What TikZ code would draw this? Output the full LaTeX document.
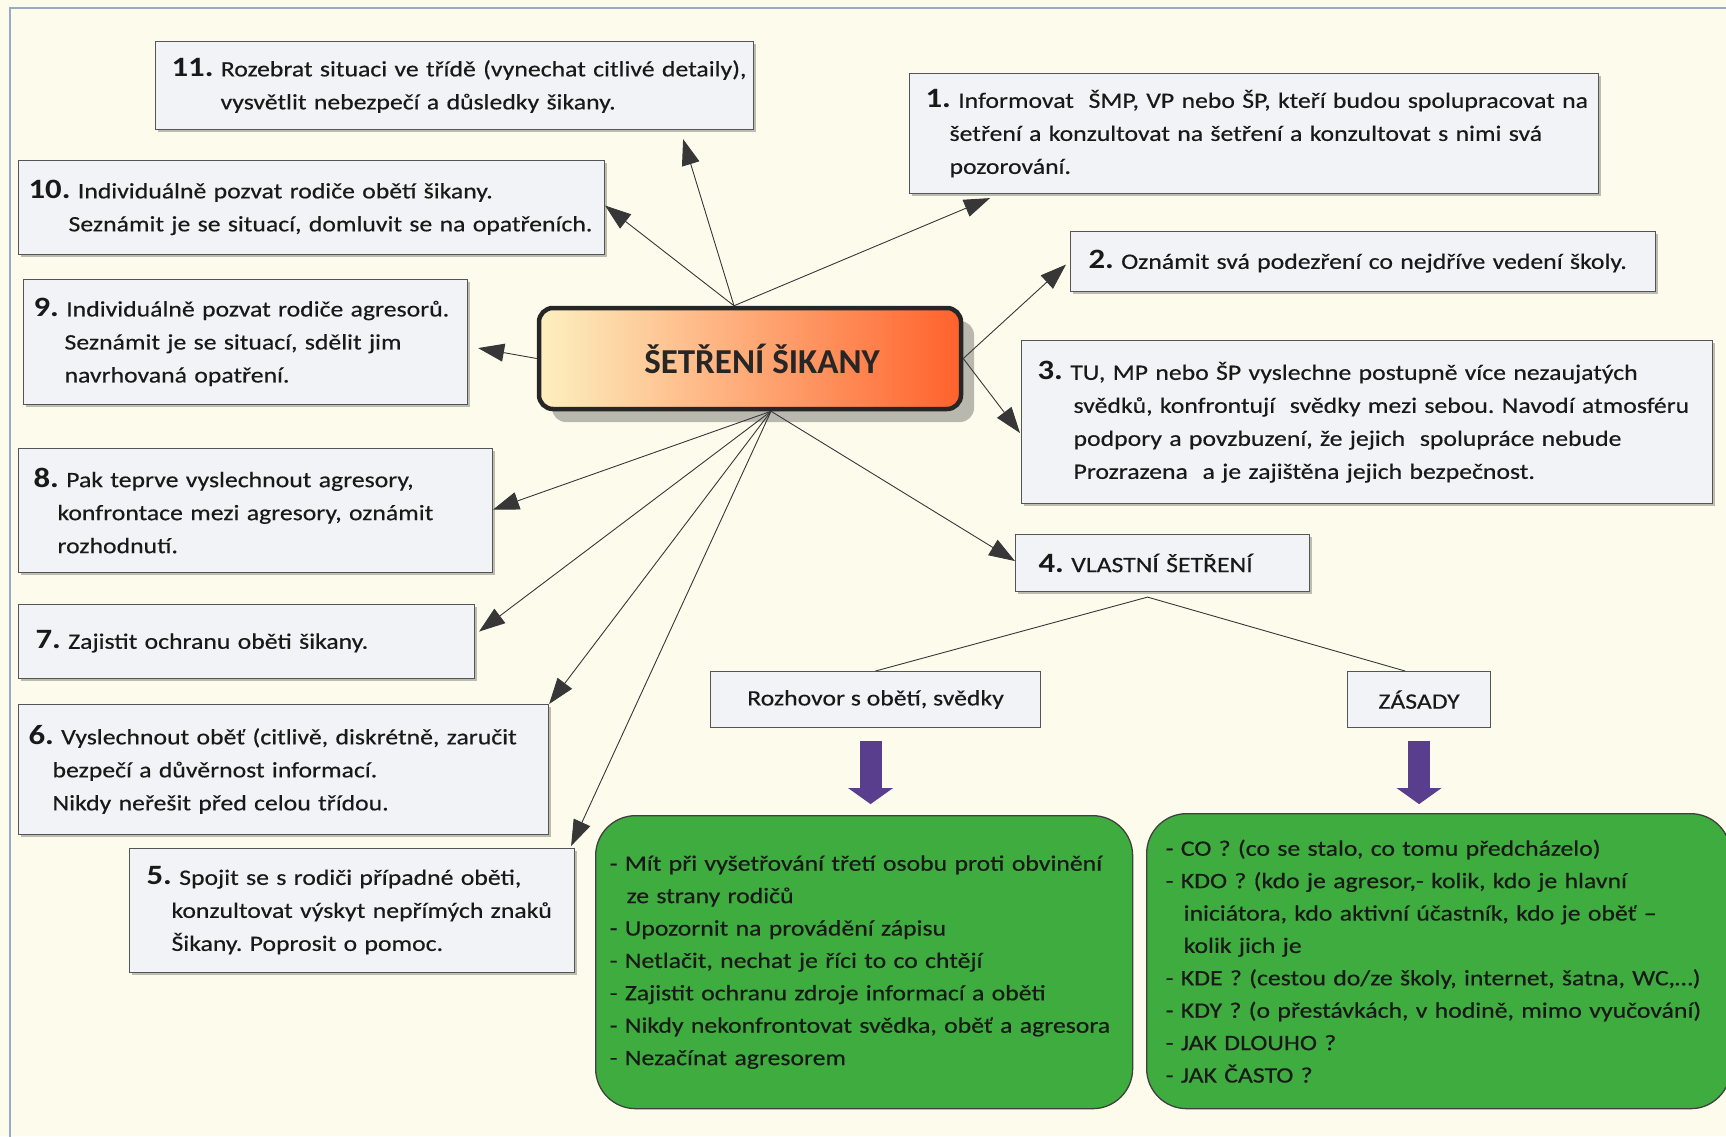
\documentclass[tikz,border=0pt]{standalone}
\usepackage{fontspec}
\setmainfont{Carlito}[FakeStretch=1.17, UprightFeatures={FakeBold=0.4}]
\newfontfamily\hlavni{Carlito}
\usetikzlibrary{calc,positioning,arrows.meta,shadows}
\frenchspacing

\definecolor{pozadi}{RGB}{253,252,236}
\definecolor{okraj}{RGB}{150,172,196}
\definecolor{vypln}{RGB}{242,243,246}
\definecolor{ramecek}{RGB}{85,85,85}
\definecolor{pismo}{RGB}{25,25,25}
\definecolor{zelen}{RGB}{62,172,62}
\definecolor{fialov}{RGB}{88,62,140}
\definecolor{cara}{RGB}{55,55,55}
\definecolor{svetla}{RGB}{253,240,192}
\definecolor{tmava}{RGB}{255,98,44}

\newcommand\krok[1]{{\fontsize{28}{33}\selectfont\bfseries #1.}}

\tikzset{
  ukol/.style 2 args={draw=ramecek, fill=vypln, line width=1.1pt, anchor=north west,
    align=left, inner xsep=0pt, inner ysep=0pt, text width=#1, text=pismo,
    execute at begin node={\leftskip=#2\rightskip=-60pt plus 1fil},
    font=\fontsize{22}{33}\selectfont,
    drop shadow={shadow xshift=2pt, shadow yshift=-2pt, opacity=.25, fill=black}},
  vetevbox/.style={draw=ramecek, fill=vypln, line width=1.1pt, anchor=north west,
    align=center, inner sep=0pt, text=pismo, font=\fontsize{22}{33}\selectfont},
  zelena/.style 2 args={draw=black!75, fill=zelen, line width=1.3pt, rounded corners=40pt,
    anchor=north west, align=left, inner xsep=0pt, inner ysep=0pt, text width=#1,
    text=pismo, execute at begin node={\leftskip=#2\rightskip=-60pt plus 1fil},
    font=\fontsize{22}{32.4}\selectfont},
  stred/.style={draw=black!85, line width=4.5pt, rounded corners=14pt,
    left color=svetla, right color=tmava, minimum width=422pt, minimum height=101pt,
    font=\hlavni\fontsize{35}{40}\selectfont\bfseries, text=black!85,
    drop shadow={shadow xshift=13pt, shadow yshift=-13pt, opacity=.45, fill=black!60}},
  pfeil/.style={draw=cara, line width=0.9pt, -{Triangle[length=26pt,width=18pt]}},
  tenka/.style={draw=cara, line width=0.9pt},
  fialova/.style={draw=fialov, line width=22pt, -{Triangle[length=16pt,width=44pt]}}
}

\begin{document}
\begin{tikzpicture}[x=1pt,y=-1pt]
\fill[pozadi] (0,0) rectangle (1726,1136);
\useasboundingbox (0,0) rectangle (1726,1136);
\draw[okraj, line width=1.5pt] (10,1140) -- (10,8) -- (1730,8);

\node[stred] (hub) at (750,358.5) {\hspace*{24pt}ŠETŘENÍ ŠIKANY};

\node[ukol={598pt}{16pt}, minimum height=88pt] (b11) at (155,41)
  {\krok{11} Rozebrat situaci ve třídě (vynechat citlivé detaily),\\\hspace*{49pt}vysvětlit nebezpečí a důsledky šikany.};
\node[ukol={586pt}{10pt}, minimum height=94pt] (b10) at (18,160)
  {\krok{10} Individuálně pozvat rodiče obětí šikany.\\\hspace*{40pt}Seznámit je se situací, domluvit se na opatřeních.};
\node[ukol={444pt}{10pt}, minimum height=125pt] (b9) at (23,279)
  {\krok{9} Individuálně pozvat rodiče agresorů.\\\hspace*{31pt}Seznámit je se situací, sdělit jim\\\hspace*{31pt}navrhovaná opatření.};
\node[ukol={474pt}{15pt}, minimum height=124pt] (b8) at (18,448)
  {\krok{8} Pak teprve vyslechnout agresory,\\\hspace*{24pt}konfrontace mezi agresory, oznámit\\\hspace*{24pt}rozhodnutí.};
\node[ukol={456pt}{17pt}, minimum height=74pt] (b7) at (18,604)
  {\krok{7} Zajistit ochranu oběti šikany.};
\node[ukol={530pt}{10pt}, minimum height=130pt] (b6) at (18,704)
  {\krok{6} Vyslechnout oběť (citlivě, diskrétně, zaručit\\\hspace*{24pt}bezpečí a důvěrnost informací.\\\hspace*{24pt}Nikdy neřešit před celou třídou.};
\node[ukol={445pt}{17pt}, minimum height=124pt] (b5) at (129,848)
  {\krok{5} Spojit se s rodiči případné oběti,\\\hspace*{25pt}konzultovat výskyt nepřímých znaků\\\hspace*{25pt}Šikany. Poprosit o pomoc.};
\node[ukol={689pt}{16pt}, minimum height=120pt] (b1) at (909,73)
  {\krok{1} Informovat\ \ ŠMP, VP nebo ŠP, kteří budou spolupracovat na\\\hspace*{24pt}šetření a konzultovat na šetření a konzultovat s nimi svá\\\hspace*{24pt}pozorování.};
\node[ukol={585pt}{18pt}, minimum height=60pt] (b2) at (1070,231)
  {\krok{2} Oznámit svá podezření co nejdříve vedení školy.};
\node[ukol={691pt}{16pt}, minimum height=163pt] (b3) at (1021,340)
  {\krok{3} TU, MP nebo ŠP vyslechne postupně více nezaujatých\\\hspace*{36pt}svědků, konfrontují\ \ svědky mezi sebou. Navodí atmosféru\\\hspace*{36pt}podpory a povzbuzení, že jejich\ \ spolupráce nebude\\\hspace*{36pt}Prozrazena\ \ a je zajištěna jejich bezpečnost.};
\node[ukol={294pt}{23pt}, minimum height=57pt] (b4) at (1015,534)
  {\krok{4} VLASTNÍ ŠETŘENÍ};

\node[vetevbox, minimum width=330pt, minimum height=56pt] (rozh) at (710,671) {Rozhovor s obětí, svědky};
\node[vetevbox, minimum width=143pt, minimum height=56pt] (zas) at (1347,671) {ZÁSADY};

\node[zelena={537pt}{14pt}, minimum height=293pt] (gl) at (595,815)
  {- Mít při vyšetřování třetí osobu proti obvinění\\\hspace*{17pt}ze strany rodičů\\- Upozornit na provádění zápisu\\- Netlačit, nechat je říci to co chtějí\\- Zajistit ochranu zdroje informací a oběti\\- Nikdy nekonfrontovat svědka, oběť a agresora\\- Nezačínat agresorem};
\node[zelena={584pt}{19pt}, minimum height=295pt] (gr) at (1146,813)
  {- CO ? (co se stalo, co tomu předcházelo)\\- KDO ? (kdo je agresor,- kolik, kdo je hlavní\\\hspace*{18pt}iniciátora, kdo aktivní účastník, kdo je oběť --\\\hspace*{18pt}kolik jich je\\- KDE ? (cestou do/ze školy, internet, šatna, WC,\dots)\\- KDY ? (o přestávkách, v hodině, mimo vyučování)\\- JAK DLOUHO ?\\- JAK ČASTO ?};

\coordinate (nahoru) at ($(hub.north)+(-16,0)$);
\coordinate (dolu) at ($(hub.south)+(21,0)$);
\coordinate (t11) at ($(b11.south east)+(-71,9)$);
\coordinate (t10) at ($(b10.east)+(0,-2)$);
\coordinate (t1) at ($(b1.south west)+(81,4)$);
\coordinate (t9) at ($(b9.east)+(10,6)$);
\coordinate (t2) at ($(b2.west)+(-4,3)$);
\coordinate (t3) at ($(b3.north west)+(-1,93)$);
\coordinate (t8) at ($(b8.east)+(0,-1)$);
\coordinate (t7) at ($(b7.east)+(4,-10)$);
\coordinate (t6) at (b6.north east);
\coordinate (t5) at ($(b5.north east)+(-4,-2)$);
\coordinate (t4) at ($(b4.west)+(0,-2)$);

\foreach \t in {t11,t10,t1}
  \draw[pfeil] (nahoru) -- (\t);
\draw[pfeil] (hub.west) -- (t9);
\foreach \t in {t2,t3}
  \draw[pfeil] (hub.east) -- (\t);
\foreach \t in {t8,t7,t6,t5,t4}
  \draw[pfeil] (dolu) -- (\t);

\coordinate (vetev) at ($(b4.south)+(-15,5)$);
\draw[tenka] (rozh.north) -- (vetev) -- ($(zas.north)+(-14,0)$);

\draw[fialova] ($(rozh.south)+(-5,13)$) -- ($(rozh.south)+(-5,76)$);
\draw[fialova] ($(zas.south)+(0,13)$) -- ($(zas.south)+(0,76)$);
\end{tikzpicture}
\end{document}
